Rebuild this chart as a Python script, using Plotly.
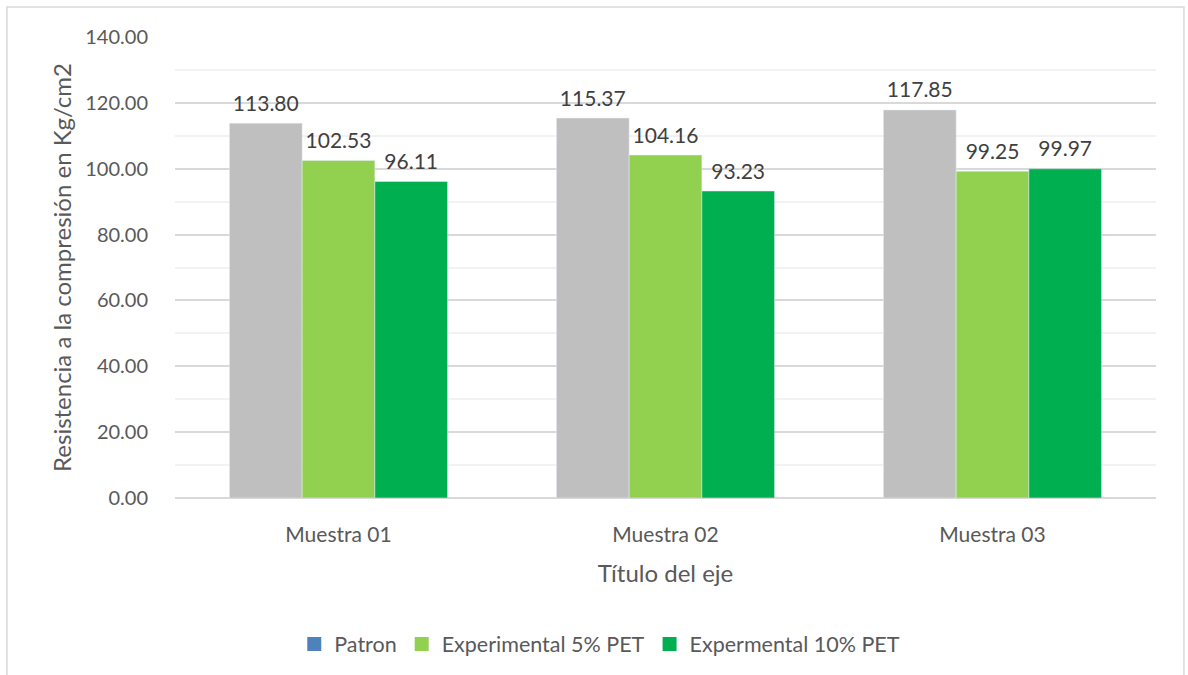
import plotly.graph_objects as go

categories = ["Muestra 01", "Muestra 02", "Muestra 03"]
patron = [113.80, 115.37, 117.85]
exp_5 = [102.53, 104.16, 99.25]
exp_10 = [96.11, 93.23, 99.97]

FONT = "Lato, 'Open Sans', sans-serif"
TXT = "#404040"
TICK = "#595959"

series = [
    ("Patron", patron, "#BFBFBF", "#4F81BD"),
    ("Experimental 5% PET", exp_5, "#92D050", "#92D050"),
    ("Expermental 10% PET", exp_10, "#00B050", "#00B050"),
]

fig = go.Figure()

for i, (name, vals, color, key) in enumerate(series):
    fig.add_trace(go.Bar(name=name, x=categories, y=vals, marker_color=color,
                         offsetgroup=str(i), showlegend=False))

# value labels, grouped the same way as the bars
for i, (name, vals, color, key) in enumerate(series):
    fig.add_trace(go.Scatter(x=categories, y=vals, mode="markers+text",
                             offsetgroup=str(i), showlegend=False, hoverinfo="skip",
                             text=[f"{v:.2f}" for v in vals], textposition="top center",
                             textfont=dict(size=21, color=TXT, family=FONT),
                             marker=dict(size=10, opacity=0), cliponaxis=False))

# legend keys
for i, (name, vals, color, key) in enumerate(series):
    fig.add_trace(go.Scatter(name=name, x=[None], y=[None], mode="markers",
                             marker=dict(symbol="square", size=14, color=key),
                             legendrank=i + 1))

# chart border
fig.add_shape(type="rect", xref="paper", yref="paper",
              x0=-0.1713, x1=1.0285, y0=-0.40, y1=1.0649,
              line=dict(color="#D9D9D9", width=1.5), layer="below")

fig.update_layout(
    width=1188, height=675,
    margin=dict(l=175, r=32, t=37, b=176),
    paper_bgcolor="white", plot_bgcolor="white",
    barmode="group", bargap=0.333, bargroupgap=0,
    scattermode="group", scattergap=0.333,
    font=dict(family=FONT, color=TICK, size=20),
    legend=dict(orientation="h", x=0.433, xanchor="center", y=-0.314, yanchor="middle",
                font=dict(size=21.5, color=TICK), traceorder="normal",
                itemsizing="trace", itemwidth=30),
    xaxis=dict(
        title=dict(text="Título del eje", font=dict(size=24, color=TICK), standoff=20),
        showgrid=False, showline=False, ticks="",
        tickfont=dict(size=21, color=TICK), ticklabelstandoff=22,
    ),
    yaxis=dict(
        title=dict(text="Resistencia a la compresión en Kg/cm2", font=dict(size=24, color=TICK),
                   standoff=6),
        range=[0, 140], dtick=20, tickformat=".2f",
        gridcolor="#D9D9D9", gridwidth=1.5,
        zeroline=True, zerolinecolor="#D9D9D9", zerolinewidth=1.5,
        minor=dict(dtick=10, showgrid=True, gridcolor="#F2F2F2", gridwidth=1.5),
        showline=False, ticks="", tickfont=dict(size=20, color=TICK), ticklabelstandoff=26,
    ),
)

fig.write_html("out.html")
